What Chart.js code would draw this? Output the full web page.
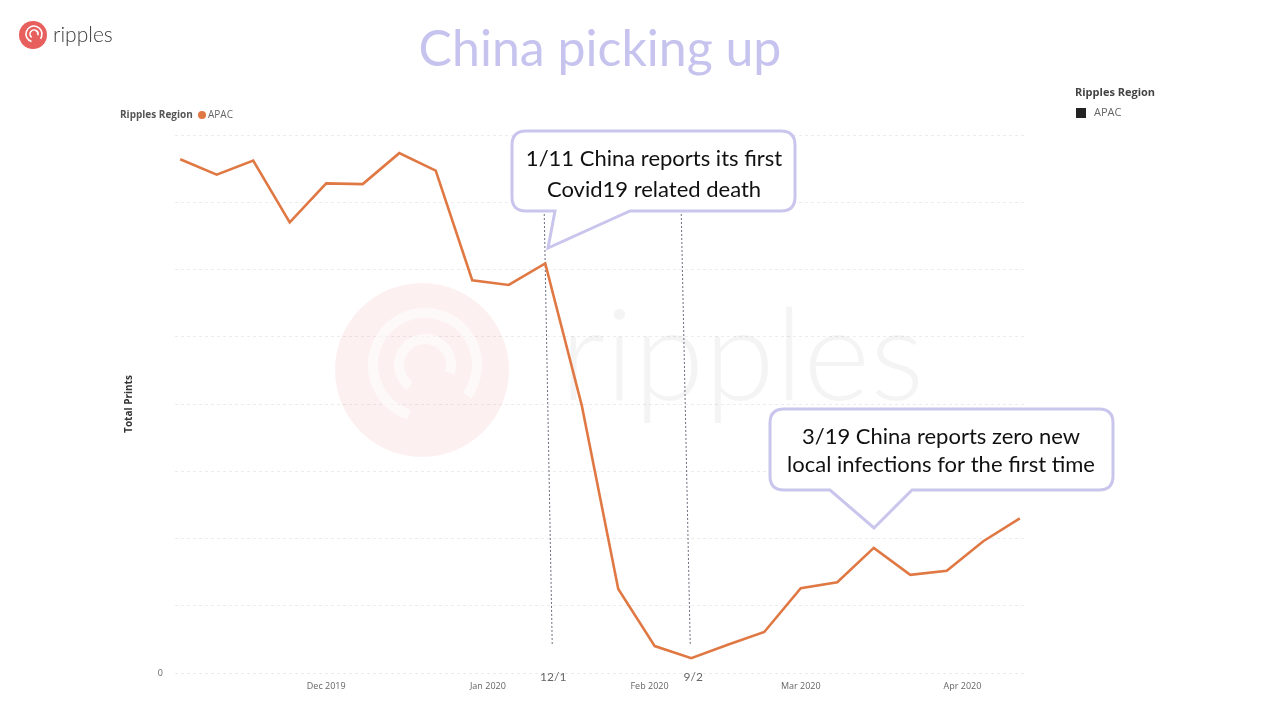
<!DOCTYPE html>
<html>
<head>
<meta charset="utf-8">
<script src="https://cdn.jsdelivr.net/npm/chart.js@4.4.0/dist/chart.umd.min.js"></script>
<style>
  html, body { margin: 0; padding: 0; background: #fff; overflow: hidden; }
  canvas { display: block; }
</style>
</head>
<body>
<canvas id="printsChart" width="1269" height="713"></canvas>
<script>
// weekly data, APAC
var weeks = ["2019-11-03","2019-11-10","2019-11-17","2019-11-24","2019-12-01","2019-12-08",
             "2019-12-15","2019-12-22","2019-12-29","2020-01-05","2020-01-12","2020-01-19",
             "2020-01-26","2020-02-02","2020-02-09","2020-02-16","2020-02-23","2020-03-01",
             "2020-03-08","2020-03-15","2020-03-22","2020-03-29","2020-04-05","2020-04-12"];
var apacPrints = [7.64, 7.41, 7.62, 6.70, 7.28, 7.27, 7.73, 7.47, 5.84, 5.77, 6.09, 3.98,
                  1.25, 0.40, 0.22, 0.42, 0.61, 1.26, 1.35, 1.86, 1.46, 1.52, 1.96, 2.30];
var monthStarts = ["2019-12-01","2020-01-01","2020-02-01","2020-03-01","2020-04-01"];
var monthLabels = ["Dec 2019","Jan 2020","Feb 2020","Mar 2020","Apr 2020"];
var markerDates = ["2020-01-12","2020-02-09"];
var markerLabels = ["12/1","9/2"];
var yTicks = [0, 1, 2, 3, 4, 5, 6, 7, 8];

var calloutFont = "'Lato', 'Open Sans', sans-serif";
var lavender = "#c9c5ec";

function dayOf(s) {
    return (Date.parse(s) - Date.parse(weeks[0])) / 86400000;
}

var points = weeks.map(function (w, i) { return { x: dayOf(w), y: apacPrints[i] }; });

function roundedCallout(ctx, x, y, w, h, r, tail) {
    ctx.beginPath();
    ctx.moveTo(x + r, y);
    ctx.lineTo(x + w - r, y);
    ctx.quadraticCurveTo(x + w, y, x + w, y + r);
    ctx.lineTo(x + w, y + h - r);
    ctx.quadraticCurveTo(x + w, y + h, x + w - r, y + h);
    ctx.lineTo(tail[2], y + h);
    ctx.lineTo(tail[3], tail[4]);
    ctx.lineTo(tail[0], y + h);
    ctx.lineTo(x + r, y + h);
    ctx.quadraticCurveTo(x, y + h, x, y + h - r);
    ctx.lineTo(x, y + r);
    ctx.quadraticCurveTo(x, y, x + r, y);
    ctx.closePath();
    ctx.fillStyle = "#fff";
    ctx.fill();
    ctx.lineWidth = 3;
    ctx.strokeStyle = lavender;
    ctx.stroke();
}

var decorations = {
    id: "decorations",
    beforeDatasetsDraw: function (chart) {
        var ctx = chart.ctx;
        ctx.save();
        // watermark
        ctx.beginPath();
        ctx.arc(422, 370, 87, 0, Math.PI * 2);
        ctx.fillStyle = "rgba(240,110,110,0.10)";
        ctx.fill();
        ctx.lineWidth = 10;
        ctx.strokeStyle = "rgba(255,255,255,0.6)";
        ctx.beginPath();
        ctx.arc(425, 365, 52, Math.PI * 0.6, Math.PI * 2.2);
        ctx.stroke();
        ctx.beginPath();
        ctx.arc(425, 365, 26, Math.PI * 0.7, Math.PI * 2.1);
        ctx.stroke();
        ctx.font = "300 128px 'Lato', sans-serif";
        ctx.fillStyle = "rgba(0,0,0,0.045)";
        ctx.textBaseline = "alphabetic";
        ctx.fillText("ripples", 560, 400);

        // dotted markers
        var xs = chart.scales.x;
        ctx.setLineDash([2, 2]);
        ctx.lineWidth = 0.9;
        ctx.strokeStyle = "#5a5a70";
        var offsets = [[-1, 7], [-10, -1]];
        markerDates.forEach(function (d, i) {
            var px = xs.getPixelForValue(dayOf(d));
            ctx.beginPath();
            ctx.moveTo(px + offsets[i][0], 214);
            ctx.lineTo(px + offsets[i][1], 646);
            ctx.stroke();
        });
        ctx.setLineDash([]);
        ctx.font = "12px 'Lato', sans-serif";
        ctx.fillStyle = "#666";
        ctx.textAlign = "center";
        ctx.textBaseline = "middle";
        markerDates.forEach(function (d, i) {
            var px = xs.getPixelForValue(dayOf(d));
            ctx.fillText(markerLabels[i], px + 8 - i * 6, 677);
        });
        ctx.restore();
    },
    afterDraw: function (chart) {
        var ctx = chart.ctx;
        ctx.save();
        // title
        ctx.font = "50px " + calloutFont;
        ctx.fillStyle = "#c7c3ef";
        ctx.textAlign = "center";
        ctx.textBaseline = "middle";
        ctx.fillText("China picking up", 600, 50);

        // logo
        ctx.beginPath();
        ctx.arc(33, 35, 14, 0, Math.PI * 2);
        ctx.fillStyle = "#e8605e";
        ctx.fill();
        ctx.strokeStyle = "#fff";
        ctx.lineWidth = 1.6;
        ctx.beginPath();
        ctx.arc(34, 34, 8, Math.PI * 0.6, Math.PI * 2.2);
        ctx.stroke();
        ctx.beginPath();
        ctx.arc(34, 34, 4, Math.PI * 0.7, Math.PI * 2.1);
        ctx.stroke();
        ctx.font = "300 21px 'Lato', sans-serif";
        ctx.fillStyle = "#3c3c3c";
        ctx.textAlign = "left";
        ctx.fillText("ripples", 53, 35);

        // top-left legend
        ctx.font = "bold 10px 'Open Sans', sans-serif";
        ctx.fillStyle = "#555";
        ctx.fillText("Ripples Region", 120, 115);
        ctx.beginPath();
        ctx.arc(202, 115, 4, 0, Math.PI * 2);
        ctx.fillStyle = "#e07844";
        ctx.fill();
        ctx.font = "10px 'Open Sans', sans-serif";
        ctx.fillStyle = "#666";
        ctx.fillText("APAC", 208, 115);

        // right legend
        ctx.font = "bold 11px 'Open Sans', sans-serif";
        ctx.fillStyle = "#444";
        ctx.fillText("Ripples Region", 1075, 93);
        ctx.fillStyle = "#222";
        ctx.fillRect(1076, 108, 10, 10);
        ctx.font = "11px 'Open Sans', sans-serif";
        ctx.fillStyle = "#666";
        ctx.fillText("APAC", 1094, 113);

        // callouts
        roundedCallout(ctx, 512, 131, 283, 80, 14, [555, 548, 630, 548, 248]);
        roundedCallout(ctx, 770, 409, 343, 81, 14, [830, 874, 912, 874, 528]);
        ctx.font = "22px " + calloutFont;
        ctx.fillStyle = "#111";
        ctx.textAlign = "center";
        ctx.fillText("1/11 China reports its first", 654, 159);
        ctx.fillText("Covid19 related death", 654, 190);
        ctx.fillText("3/19 China reports zero new", 941, 437);
        ctx.fillText("local infections for the first time", 941, 465);
        ctx.restore();
    }
};

var ctx1 = document.getElementById("printsChart");
var printsChart = new Chart(ctx1, {
    type: "line",
    data: {
        datasets: [
            {
                label: "APAC",
                data: points,
                borderColor: "#e07844",
                borderWidth: 2.6,
                pointRadius: 0,
                tension: 0,
                fill: false
            }
        ]
    },
    options: {
        responsive: false,
        animation: false,
        devicePixelRatio: 1,
        layout: { padding: { left: 123, right: 244, top: 135, bottom: 0 } },
        plugins: { legend: { display: false }, tooltip: { enabled: false } },
        scales: {
            x: {
                type: "linear",
                min: -1,
                max: 162,
                afterBuildTicks: function (scale) {
                    scale.ticks = monthStarts.map(function (m) { return { value: dayOf(m) }; });
                },
                afterFit: function (scale) { scale.height = 40; },
                grid: { display: false },
                border: { display: false },
                ticks: {
                    autoSkip: false,
                    maxRotation: 0,
                    padding: 0,
                    color: "#666",
                    font: { family: "'Open Sans', sans-serif", size: 9 },
                    callback: function (v) {
                        var i = monthStarts.map(dayOf).indexOf(v);
                        return i >= 0 ? monthLabels[i] : "";
                    }
                }
            },
            y: {
                min: 0,
                max: 8,
                afterBuildTicks: function (scale) {
                    scale.ticks = yTicks.map(function (t) { return { value: t }; });
                },
                afterFit: function (scale) { scale.width = 52; },
                grid: {
                    color: "#ececec",
                    lineWidth: 1,
                    drawTicks: false
                },
                border: { display: false, dash: [3, 3] },
                ticks: {
                    padding: 12,
                    color: "#666",
                    font: { family: "'Open Sans', sans-serif", size: 9 },
                    callback: function (v) { return v === 0 ? "0" : ""; }
                },
                title: {
                    display: true,
                    text: "Total Prints",
                    color: "#333",
                    padding: 0,
                    font: { family: "'Open Sans', sans-serif", size: 10, weight: "bold" }
                }
            }
        }
    },
    plugins: [decorations]
});
</script>
</body>
</html>
